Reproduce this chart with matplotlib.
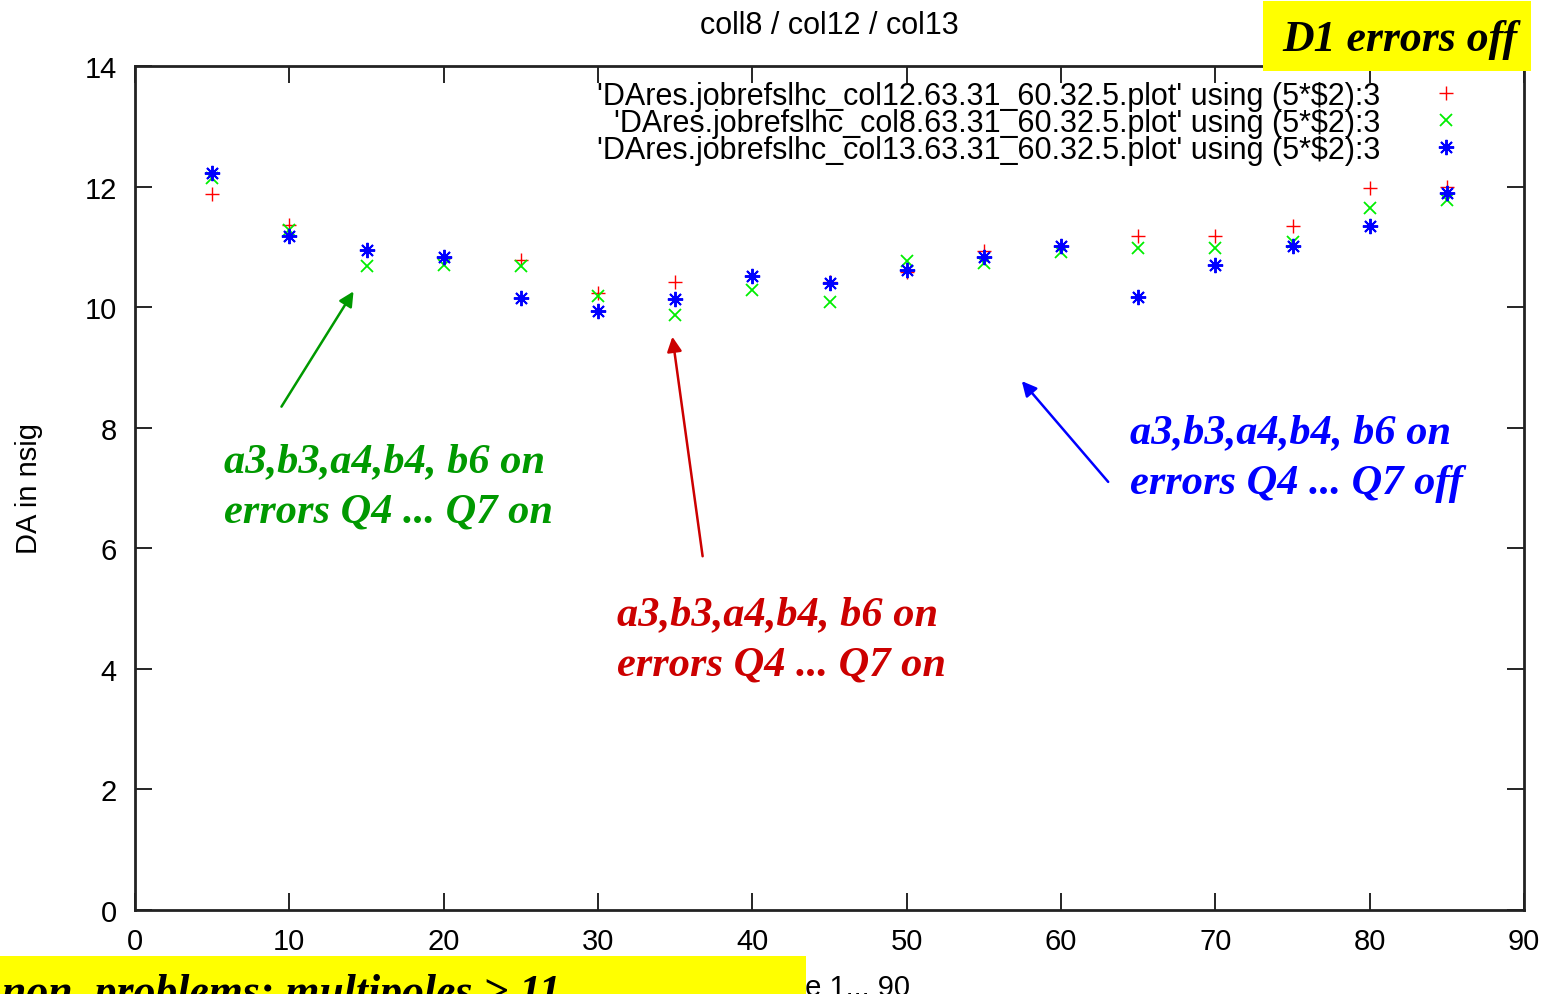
import matplotlib
matplotlib.use("Agg")
import matplotlib.pyplot as plt
from matplotlib.patches import Rectangle

angles = [5, 10, 15, 20, 25, 30, 35, 40, 45, 50, 55, 60, 65, 70, 75, 80, 85]
da_col12 = [11.88, 11.37, 10.95, 10.82, 10.78, 10.24, 10.42, 10.52, 10.42, 10.58, 10.93, 11.01, 11.18, 11.18, 11.35, 11.97, 11.99]
da_col8 = [12.15, 11.28, 10.69, 10.70, 10.69, 10.18, 9.87, 10.28, 10.08, 10.76, 10.74, 10.92, 10.98, 10.98, 11.08, 11.64, 11.77]
da_col13 = [12.22, 11.18, 10.95, 10.84, 10.15, 9.93, 10.14, 10.52, 10.40, 10.61, 10.84, 11.01, 10.17, 10.70, 11.02, 11.34, 11.89]
labels = ["'DAres.jobrefslhc_col12.63.31_60.32.5.plot' using (5*$2):3",
          "'DAres.jobrefslhc_col8.63.31_60.32.5.plot' using (5*$2):3",
          "'DAres.jobrefslhc_col13.63.31_60.32.5.plot' using (5*$2):3"]
title = "coll8 / col12 / col13"
xlabel = "angle 1... 90"
ylabel = "DA in nsig"
xticks = [0, 10, 20, 30, 40, 50, 60, 70, 80, 90]
yticks = [0, 2, 4, 6, 8, 10, 12, 14]

plt.rcParams['font.family'] = ['Liberation Sans', 'DejaVu Sans']
W, H = 1556, 995
fig = plt.figure(figsize=(W / 100, H / 100), dpi=100)
ax = fig.add_axes([135 / W, 1 - 911 / H, (1524 - 135) / W, (911 - 67) / H])

ax.plot(angles, da_col12, linestyle='none', marker='+', color='#ff0000', markersize=10.5, markeredgewidth=1.0, label=labels[0])
ax.plot(angles, da_col8, linestyle='none', marker='x', color='#00ee00', markersize=8.5, markeredgewidth=1.3, label=labels[1])
ax.plot(angles, da_col13, linestyle='none', marker=(8, 2, 0), color='#0000ff', markersize=11, markeredgewidth=1.4, label=labels[2])

ax.set_xlim(0, 90)
ax.set_ylim(0, 14)
ax.set_xticks(xticks)
ax.set_yticks(yticks)
ax.tick_params(direction='in', length=12, width=1.2, labelsize=21, top=True, right=True, pad=13)
ax.tick_params(axis='x', pad=12)
for s in ax.spines.values():
    s.set_linewidth(2)
    s.set_color('#222222')
ax.set_title(title, fontsize=22, pad=24)
ax.set_xlabel(xlabel, fontsize=21, labelpad=13)
ax.set_ylabel(ylabel, fontsize=21, labelpad=30)

leg = ax.legend(loc='upper right', bbox_to_anchor=(0.9636, 0.997), frameon=False, fontsize=22,
                markerfirst=False, handlelength=1.0, handletextpad=1.65, labelspacing=-0.1,
                borderaxespad=0.0)
for t in leg.get_texts():
    t.set_ha('right')
leg._legend_box.align = 'right'

serif = dict(family=['Liberation Serif', 'DejaVu Serif'], weight='bold', style='italic')

def at(x, y):
    return ax.transData.inverted().transform(fig.transFigure.transform((x / W, 1 - y / H)))

FS = 30.5
# green annotation
ax.annotate('', xy=at(355, 290), xytext=at(280, 410),
            arrowprops=dict(arrowstyle='-|>', color='#009900', lw=1.8, mutation_scale=22))
fig.text(224 / W, 1 - 462 / H, 'a3,b3,a4,b4, b6 on', color='#009900', fontsize=FS, va='center', **serif)
fig.text(224 / W, 1 - 513 / H, 'errors Q4 ... Q7 on', color='#009900', fontsize=FS, va='center', **serif)

# red annotation
ax.annotate('', xy=at(672, 335), xytext=at(703, 560),
            arrowprops=dict(arrowstyle='-|>', color='#cc0000', lw=1.8, mutation_scale=22))
fig.text(617 / W, 1 - 615 / H, 'a3,b3,a4,b4, b6 on', color='#cc0000', fontsize=FS, va='center', **serif)
fig.text(617 / W, 1 - 666 / H, 'errors Q4 ... Q7 on', color='#cc0000', fontsize=FS, va='center', **serif)

# blue annotation
ax.annotate('', xy=at(1020, 380), xytext=at(1110, 485),
            arrowprops=dict(arrowstyle='-|>', color='#0000ff', lw=1.8, mutation_scale=22))
fig.text(1130 / W, 1 - 433 / H, 'a3,b3,a4,b4, b6 on', color='#0000ff', fontsize=FS, va='center', **serif)
fig.text(1130 / W, 1 - 484 / H, 'errors Q4 ... Q7 off', color='#0000ff', fontsize=FS, va='center', **serif)

# yellow boxes
fig.patches.append(Rectangle((1263 / W, 1 - 72 / H), 268 / W, 70 / H, transform=fig.transFigure,
                             facecolor='#ffff00', edgecolor='none', zorder=5))
fig.text(1400 / W, 1 - 40 / H, 'D1 errors off', color='black', fontsize=31.5, ha='center', va='center',
         zorder=6, **serif)
fig.patches.append(Rectangle((0, 0), 806 / W, 38 / H, transform=fig.transFigure,
                             facecolor='#ffff00', edgecolor='none', zorder=5))
fig.text(2 / W, -10 / H, 'non  problems: multipoles > 11', color='black', fontsize=31.5, ha='left',
         va='baseline', zorder=6, **serif)

fig.savefig('out.png', dpi=100)
